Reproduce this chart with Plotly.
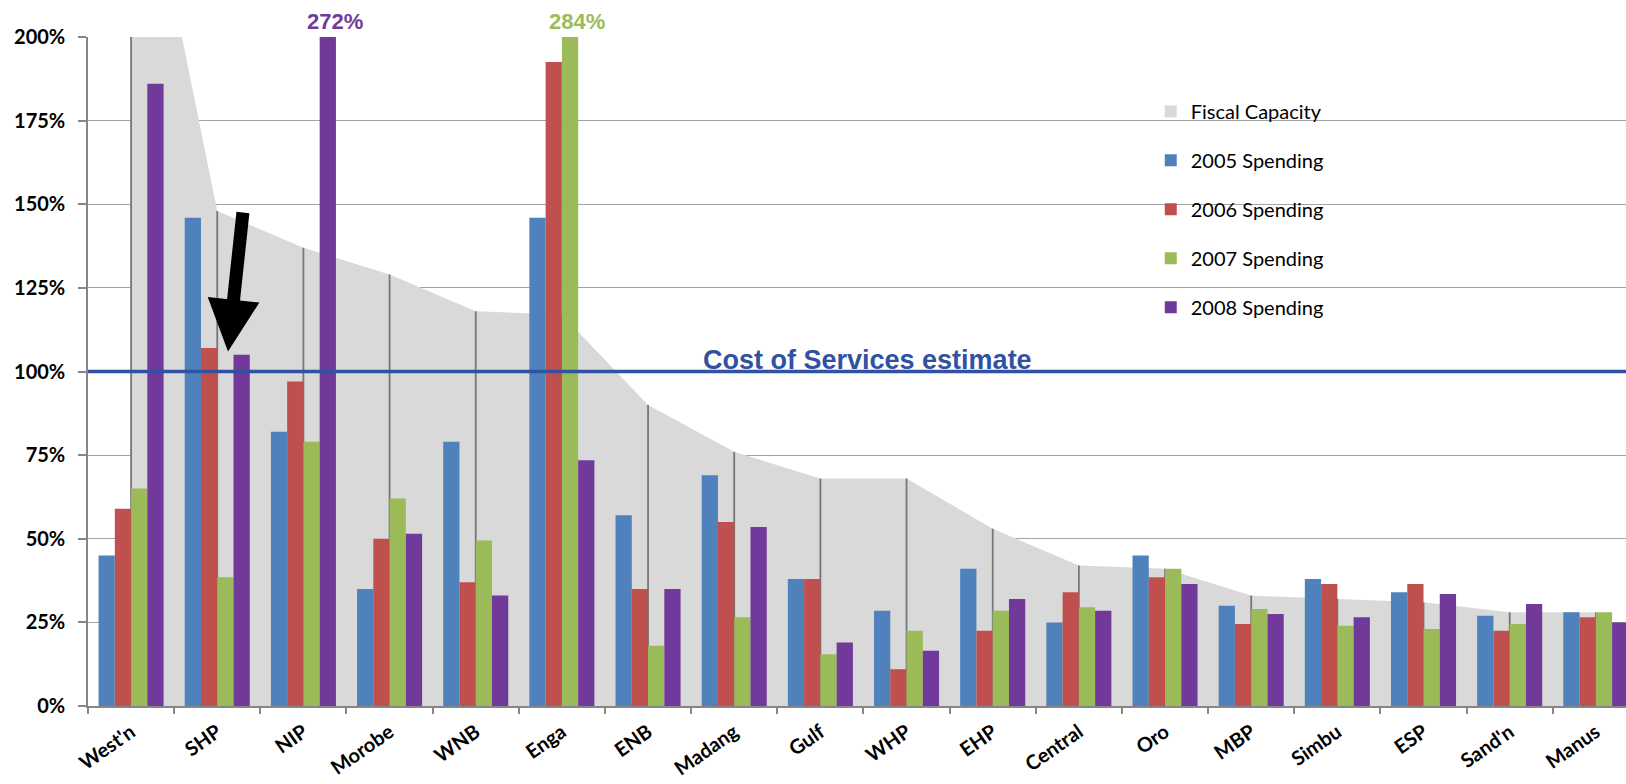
import plotly.graph_objects as go

# Provinces along the x axis
provinces = ["West'n", "SHP", "NIP", "Morobe", "WNB", "Enga", "ENB", "Madang", "Gulf",
             "WHP", "EHP", "Central", "Oro", "MBP", "Simbu", "ESP", "Sand'n", "Manus"]

# Fiscal capacity as % of the cost of services
fiscal_capacity = [275, 148, 137, 129, 118, 117, 90, 76, 68, 68, 53, 42, 41, 33, 32, 31, 28, 28]

# Spending as % of the cost of services, by year
spend_2005 = [45, 146, 82, 35, 79, 146, 57, 69, 38, 28.5, 41, 25, 45, 30, 38, 34, 27, 28]
spend_2006 = [59, 107, 97, 50, 37, 192.5, 35, 55, 38, 11, 22.5, 34, 38.5, 24.5, 36.5, 36.5, 22.5, 26.5]
spend_2007 = [65, 38.5, 79, 62, 49.5, 284, 18, 26.5, 15.5, 22.5, 28.5, 29.5, 41, 29, 24, 23, 24.5, 28]
spend_2008 = [186, 105, 272, 51.5, 33, 73.5, 35, 53.5, 19, 16.5, 32, 28.5, 36.5, 27.5, 26.5, 33.5, 30.5, 25]

cost_of_services = 100
y_ticks = [0, 25, 50, 75, 100, 125, 150, 175, 200]

FC_COLOR = "#D9D9D9"
series = [
    ("2005 Spending", spend_2005, "#4F81BD"),
    ("2006 Spending", spend_2006, "#C0504D"),
    ("2007 Spending", spend_2007, "#9BBB59"),
    ("2008 Spending", spend_2008, "#70399A"),
]

BARGAP = 0.245
Y_MAX = 200
X_RANGE = [-0.5, 17.35]

fig = go.Figure()

# Shaded fiscal-capacity area (base axes, drawn underneath the bars)
fig.add_trace(go.Scatter(
    x=provinces, y=fiscal_capacity, mode="lines", fill="tozeroy",
    fillcolor=FC_COLOR, line=dict(width=0, color=FC_COLOR),
    showlegend=False, hoverinfo="skip",
))

# Drop lines from the area down to the axis
drop_x, drop_y = [], []
for p, v in zip(provinces, fiscal_capacity):
    drop_x += [p, p, None]
    drop_y += [0, v, None]
fig.add_trace(go.Scatter(
    x=drop_x, y=drop_y, mode="lines", line=dict(color="#777777", width=1.8),
    showlegend=False, hoverinfo="skip",
))

# Legend swatch for the area
fig.add_trace(go.Bar(
    x=provinces, y=[None] * len(provinces), name="Fiscal Capacity",
    marker=dict(color=FC_COLOR), legendgroup="fc", xaxis="x2", yaxis="y2",
    showlegend=True, hoverinfo="skip",
))

# Spending bars on overlaid axes so they sit above the area
for name, vals, color in series:
    fig.add_trace(go.Bar(
        x=provinces, y=vals, name=name, marker=dict(color=color, line=dict(width=0)),
        legendgroup=name, xaxis="x2", yaxis="y2", offsetgroup=name,
    ))

# Value labels for bars that run off the top of the scale
bar_w = (1 - BARGAP) / len(series)
annotations = []
for s_idx, (name, vals, color) in enumerate(series):
    for i, v in enumerate(vals):
        if v > Y_MAX:
            annotations.append(dict(
                x=i + (s_idx - 1.5) * bar_w + 0.08, y=Y_MAX, xref="x", yref="y",
                text=f"{v:g}%", showarrow=False, yanchor="bottom", yshift=1,
                font=dict(family="Liberation Sans", size=22, color=color, weight="bold"),
            ))

annotations.append(dict(
    x=0.507, y=cost_of_services, xref="paper", yref="y",
    text="Cost of Services estimate", showarrow=False, yanchor="bottom", yshift=-5,
    font=dict(family="Liberation Sans", size=27, color="#3152A3", weight="bold"),
))

# Arrow pointing at SHP's spending bars
annotations.append(dict(
    x=1.125, y=106, xref="x", yref="y", ax=1.30, ay=148, axref="x", ayref="y",
    text="", showarrow=True, arrowhead=2, arrowsize=0.8, arrowwidth=13,
    arrowcolor="#000000", standoff=0,
))

fig.add_shape(type="line", xref="paper", yref="y", x0=0, x1=1,
              y0=cost_of_services, y1=cost_of_services,
              line=dict(color="#3152A3", width=3.5), layer="above")

fig.update_layout(
    width=1626, height=784,
    margin=dict(l=88, r=0, t=37, b=78),
    paper_bgcolor="white", plot_bgcolor="white",
    barmode="group", bargap=BARGAP, bargroupgap=0,
    showlegend=True,
    legend=dict(x=0.691, y=0.918, xanchor="left", yanchor="top",
                font=dict(family="Lato", size=20, color="#000000"),
                tracegroupgap=20, bgcolor="rgba(0,0,0,0)", itemwidth=30),
    annotations=annotations,
    xaxis=dict(
        type="category", range=X_RANGE, automargin=False,
        showline=True, linecolor="#868686", linewidth=1.5,
        ticks="outside", tickson="boundaries", ticklen=6, tickcolor="#868686", tickwidth=1.5,
        tickangle=-35, showgrid=False,
        tickfont=dict(family="Lato", size=20, color="#000000", weight="bold"),
        ticklabelstandoff=5,
    ),
    yaxis=dict(
        range=[0, Y_MAX], tickvals=y_ticks, ticktext=[f"{t}%" for t in y_ticks],
        automargin=False,
        showline=True, linecolor="#868686", linewidth=1.5,
        ticks="outside", ticklen=8, tickcolor="#868686", tickwidth=1.5,
        showgrid=True, gridcolor="#A3A3A3", gridwidth=1.4, zeroline=False,
        tickfont=dict(family="Lato", size=20, color="#000000", weight="bold"),
        ticklabelstandoff=9,
    ),
    xaxis2=dict(type="category", range=X_RANGE, overlaying="x", matches="x",
                showticklabels=False, showgrid=False, showline=False, ticks=""),
    yaxis2=dict(range=[0, Y_MAX], overlaying="y", matches="y",
                showticklabels=False, showgrid=False, showline=False, ticks="",
                zeroline=False),
)

fig.write_html("out.html")
